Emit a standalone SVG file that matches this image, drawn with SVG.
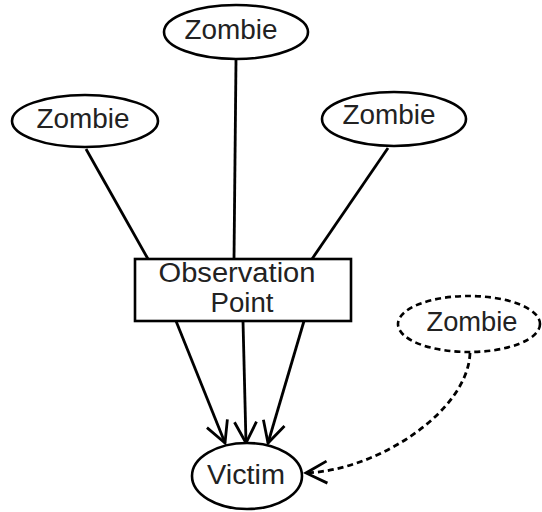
<svg xmlns="http://www.w3.org/2000/svg" width="542" height="512" viewBox="0 0 542 512">
<style>
.node{fill:#fff;stroke:#000;stroke-width:2.6}
.dash{stroke-dasharray:6 4}
.lbl{font-family:"Liberation Sans",Arial,sans-serif;font-size:27px;fill:#222;text-anchor:middle}
.edge{fill:none;stroke:#000;stroke-width:2.8}
</style>
<defs>
<marker id="arr" markerUnits="userSpaceOnUse" viewBox="-24 -12 28 24" refX="0" refY="0" markerWidth="28" markerHeight="24" orient="auto" overflow="visible">
<path d="M-21,-11 L0,0 L-21,11" fill="none" stroke="#000" stroke-width="2.8"/>
</marker>
</defs>
<rect width="542" height="512" fill="#fff"/>
<g id="connectors">
<line class="edge" x1="86" y1="149" x2="148" y2="259"/>
<line class="edge" x1="236" y1="60" x2="234" y2="259"/>
<line class="edge" x1="388" y1="148" x2="312" y2="259"/>
<line class="edge" x1="176" y1="321" x2="225" y2="443" marker-end="url(#arr)"/>
<line class="edge" x1="243" y1="321" x2="246" y2="443" marker-end="url(#arr)"/>
<line class="edge" x1="304" y1="321" x2="268" y2="443" marker-end="url(#arr)"/>
<path class="edge dash" d="M470,353 C468,410 380,470 306,473" marker-end="url(#arr)"/>
</g>
<g id="zombie-top">
<ellipse class="node" cx="236" cy="32" rx="72" ry="27"/>
<text class="lbl" x="231" y="39" textLength="93" lengthAdjust="spacingAndGlyphs">Zombie</text>
</g>
<g id="zombie-left">
<ellipse class="node" cx="85" cy="121" rx="73" ry="26"/>
<text class="lbl" x="83" y="128" textLength="93" lengthAdjust="spacingAndGlyphs">Zombie</text>
</g>
<g id="zombie-right">
<ellipse class="node" cx="394" cy="119" rx="72" ry="27"/>
<text class="lbl" x="389" y="124" textLength="93" lengthAdjust="spacingAndGlyphs">Zombie</text>
</g>
<g id="observation-point">
<rect class="node" x="135" y="259" width="216" height="62"/>
<text class="lbl" x="237" y="282" textLength="157" lengthAdjust="spacingAndGlyphs">Observation</text>
<text class="lbl" x="242" y="312" textLength="63" lengthAdjust="spacingAndGlyphs">Point</text>
</g>
<g id="zombie-dashed">
<ellipse class="node dash" cx="469" cy="324" rx="71" ry="28"/>
<text class="lbl" x="472" y="331" textLength="91" lengthAdjust="spacingAndGlyphs">Zombie</text>
</g>
<g id="victim">
<ellipse class="node" cx="247" cy="476" rx="55" ry="33"/>
<text class="lbl" x="246" y="484" textLength="78" lengthAdjust="spacingAndGlyphs">Victim</text>
</g>
</svg>
